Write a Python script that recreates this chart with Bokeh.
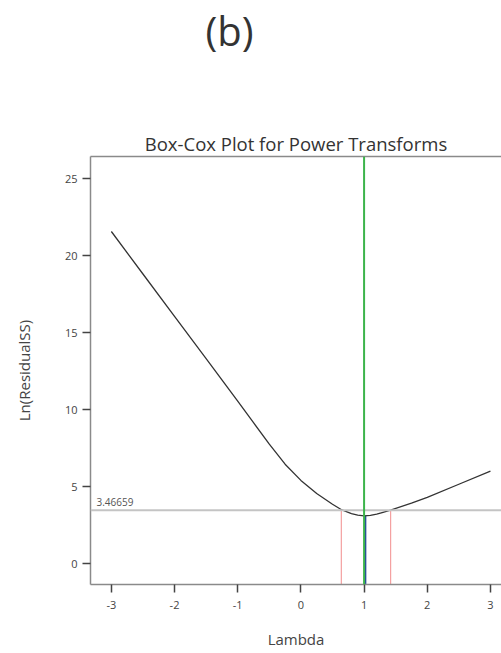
from bokeh.plotting import figure
from bokeh.models import (Range1d, LinearAxis, Title, Span, Label,
                          FixedTicker, ColumnDataSource, CustomJSTickFormatter)
from bokeh.embed import file_html
from bokeh.resources import INLINE

# Box-Cox profile: ln(residual SS) against lambda
lam = [-3.0, -2.5, -2.0, -1.5, -1.0, -0.75, -0.5, -0.25, 0.0, 0.25, 0.5,
       0.65, 0.8, 0.9, 1.0, 1.1, 1.2, 1.3, 1.42, 1.75, 2.0, 2.5, 3.0]
ln_rss = [21.56, 18.80, 16.05, 13.30, 10.55, 9.15, 7.75, 6.45, 5.40, 4.55,
          3.85, 3.48, 3.24, 3.14, 3.10, 3.13, 3.21, 3.33, 3.47, 3.93, 4.30,
          5.15, 6.00]

ci_level = 3.46659          # confidence-interval cut-off on ln(SS)
ci_low, ci_high = 0.64, 1.42
best_lambda = 1.02
best_value = 3.10
current_lambda = 1.0

x_ticks = [-3, -2, -1, 0, 1, 2, 3]
y_ticks = [0, 5, 10, 15, 20, 25]

X_START, X_END = -3.33, 3.175
Y_START, Y_END = -1.36, 26.43

FONT = "Open Sans"
AXIS_GREY = "#8a8a8a"

p = figure(width=501, height=653, output_backend="svg", toolbar_location=None,
           title=None,
           x_range=Range1d(X_START, X_END), y_range=Range1d(Y_START, Y_END),
           x_axis_label="Lambda", y_axis_label="Ln(ResidualSS)",
           min_border_left=90, min_border_right=0,
           min_border_top=156, min_border_bottom=69)
p.outline_line_color = None
p.grid.visible = False
p.background_fill_color = "white"
p.border_fill_color = "white"

plain_ticks = CustomJSTickFormatter(code="return String(tick)")

for ax in (p.xaxis[0], p.yaxis[0]):
    ax.axis_line_color = AXIS_GREY
    ax.axis_line_width = 1.5
    ax.major_tick_line_color = "#444444"
    ax.major_tick_line_width = 1.5
    ax.major_tick_in = 0
    ax.major_tick_out = 8
    ax.minor_tick_line_color = None
    ax.formatter = plain_ticks
    ax.major_label_text_font = FONT
    ax.major_label_text_font_size = "11px"
    ax.major_label_text_color = "#444444"
    ax.axis_label_text_font = FONT
    ax.axis_label_text_font_style = "normal"
    ax.axis_label_text_color = "#444444"

p.xaxis[0].ticker = FixedTicker(ticks=x_ticks)
p.yaxis[0].ticker = FixedTicker(ticks=y_ticks)
p.xaxis[0].major_label_standoff = 8
p.yaxis[0].major_label_standoff = 5
p.xaxis[0].axis_label_text_font_size = "15px"
p.xaxis[0].axis_label_standoff = 17
p.yaxis[0].axis_label_text_font_size = "15px"
p.yaxis[0].axis_label_standoff = 28

# top border of the frame
top = LinearAxis(ticker=FixedTicker(ticks=[]), axis_line_color=AXIS_GREY,
                 axis_line_width=1.5, major_tick_out=0, major_tick_in=0,
                 minor_tick_out=0, minor_tick_in=0, major_label_standoff=0,
                 major_label_text_font_size="0px", axis_label=None)
p.add_layout(top, "above")

p.add_layout(Title(text="Box-Cox Plot for Power Transforms", align="center",
                   standoff=2, text_font=FONT,
                   text_font_size="18.5px", text_font_style="normal",
                   text_color="#333333"), "above")

# empty band between the chart title and the panel letter:
# an unlabelled axis whose single hidden tick reserves the height
gap = LinearAxis(ticker=FixedTicker(ticks=[0]), axis_line_color=None,
                 major_tick_line_color=None, minor_tick_line_color=None,
                 major_tick_out=70, major_tick_in=0, minor_tick_out=0,
                 minor_tick_in=0, major_label_standoff=0,
                 formatter=CustomJSTickFormatter(code="return ''"),
                 major_label_text_font_size="1px", axis_label=None)
p.add_layout(gap, "above")

p.add_layout(Title(text="(b)", align="left", offset=115, standoff=0,
                   text_font=FONT, text_font_size="40px",
                   text_font_style="normal", text_color="#333333"), "above")

# confidence cut-off line and its value
p.add_layout(Span(location=ci_level, dimension="width",
                  line_color="#c4c4c4", line_width=2))
p.add_layout(Label(x=X_START, y=ci_level, text=f"{ci_level:.5f}".rstrip("0"),
                   x_offset=6, y_offset=4, text_baseline="bottom",
                   text_font=FONT, text_font_size="10px",
                   text_color="#555555"))

# confidence limits on lambda
ci_src = ColumnDataSource(dict(x=[ci_low, ci_high], y0=[Y_START, Y_START],
                               y1=[ci_level, ci_level]))
p.segment(x0="x", y0="y0", x1="x", y1="y1", source=ci_src,
          line_color="#f4a0a0", line_width=1.2)

# current lambda
p.add_layout(Span(location=current_lambda, dimension="height",
                  line_color="#3cb44b", line_width=2))

# best lambda
p.segment(x0=[best_lambda], y0=[Y_START], x1=[best_lambda], y1=[best_value],
          line_color="#2a4d9c", line_width=2)

# profile curve
p.line(lam, ln_rss, line_color="#333333", line_width=1.3)

open("out.html", "w").write(file_html(p, INLINE))
